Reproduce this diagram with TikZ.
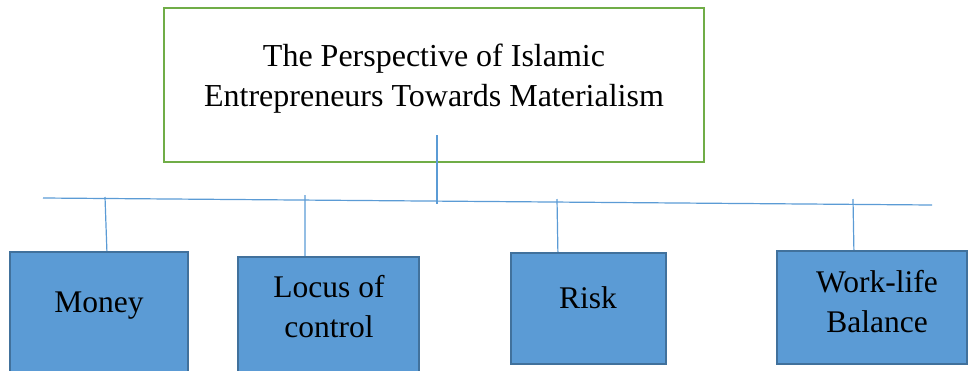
\documentclass[tikz,border=0pt]{standalone}
\usepackage{fontspec}
\setmainfont{Liberation Serif}
\usepackage{tikz}
\usetikzlibrary{calc}
\definecolor{zx_blue}{RGB}{91, 155, 213}
\definecolor{zx_darkblue}{RGB}{65, 113, 156}
\definecolor{zx_olive}{RGB}{112, 173, 71}
\tikzstyle{tn}=[rectangle,draw=zx_olive,line width=2.5pt,
  minimum width=540pt,minimum height=154pt]
\tikzstyle{bn}=[rectangle,fill=zx_blue,draw=zx_darkblue,line width=2.2pt]
\tikzstyle{tx}=[align=center,inner sep=0pt,font=\fontsize{31.5}{40}\selectfont]
\tikzstyle{ln}=[draw=zx_blue,line width=1.2pt]
\tikzstyle{none}=[]

\begin{document}
\begin{tikzpicture}[x=1pt,y=-1pt]
            \useasboundingbox (0, 0) rectangle (969, 370);
            \node [style=tn] (0) at (434, 85) {};
            \node [style=tx, font=\fontsize{32}{40}\selectfont] (1) at (434, 79) {The Perspective of Islamic\\Entrepreneurs Towards Materialism};
            \node [style=bn, minimum width=178pt, minimum height=148pt] (2) at (99, 326) {};
            \node [style=bn, minimum width=181pt, minimum height=143pt] (3) at (328.5, 328.5) {};
            \node [style=bn, minimum width=155pt, minimum height=111pt] (4) at (588.5, 308.5) {};
            \node [style=bn, minimum width=190pt, minimum height=113pt] (5) at (872, 307.5) {};
            \node [style=tx, anchor=base] (6) at (99, 312) {Money};
            \node [style=tx] (7) at (329, 307) {Locus of\\control};
            \node [style=tx, anchor=base] (8) at (588, 308) {Risk};
            \node [style=tx] (9) at (877, 301.5) {Work-life\\Balance};
            \coordinate (10) at (437, 135);
            \coordinate (11) at (437, 204);
            \coordinate (12) at (43, 198);
            \coordinate (13) at (932, 205);
            \coordinate (14) at (105, 197);
            \coordinate (15) at (305, 195);
            \coordinate (16) at (557, 199);
            \coordinate (17) at (853, 199);
            \draw [style=ln] (12) to (13);
            \draw [style=ln] (10) to (11);
            \draw [style=ln] (14) to ($(2.north west)+(98, 0)$);
            \draw [style=ln] (15) to ($(3.north west)+(68, 0)$);
            \draw [style=ln] (16) to ($(4.north west)+(48, 0)$);
            \draw [style=ln] (17) to ($(5.north west)+(78, 0)$);
    \end{tikzpicture}
\end{document}
